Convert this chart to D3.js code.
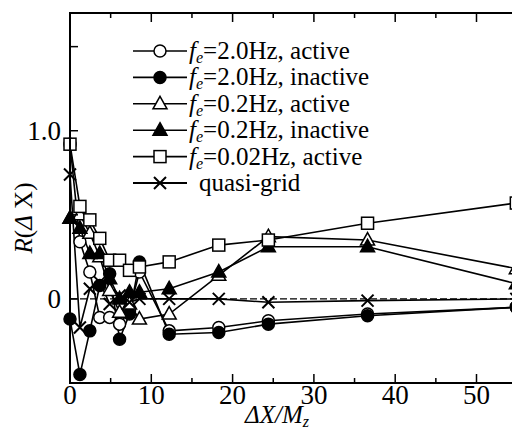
<!DOCTYPE html>
<html>
<head>
<meta charset="utf-8">
<script src="https://cdn.jsdelivr.net/npm/d3@7"></script>
<style>
  html, body { margin: 0; padding: 0; background: #fff; }
  svg { display: block; }
</style>
</head>
<body>
<svg id="chart" width="512" height="441" style="font-family: 'Liberation Serif', serif;"></svg>
<script>
// Separation distances (ΔX / Mz) at which the correlation was evaluated
const dx = [0, 1.22, 2.44, 3.66, 4.88, 6.1, 7.32, 8.54, 12.2, 18.3, 24.4, 36.6, 54.9];

// Correlation R(ΔX) for each case
const fe20Active   = [0.92, 0.34, 0.16, -0.11, -0.11, -0.15, -0.07, 0.16, -0.19, -0.17, -0.13, -0.09, -0.05];
const fe20Inactive = [-0.12, -0.45, -0.19, 0.08, 0.15, -0.24, -0.09, 0.22, -0.21, -0.20, -0.15, -0.10, -0.05];
const fe02Active   = [0.48, 0.50, 0.39, 0.25, 0.05, -0.08, -0.03, -0.12, -0.09, 0.14, 0.37, 0.35, 0.18];
const fe02Inactive = [0.48, 0.42, 0.27, 0.27, 0.12, 0.00, 0.04, 0.04, 0.06, 0.16, 0.31, 0.31, 0.09];
const fe002Active  = [0.92, 0.55, 0.47, 0.36, 0.23, 0.23, 0.17, 0.19, 0.22, 0.32, 0.35, 0.45, 0.57];
const quasiGrid    = [0.74, -0.17, 0.06, 0.10, -0.03, 0.02, -0.02, 0.00, 0.00, 0.00, -0.02, -0.01, 0.00];

// Legend entries: frequency text and state text
const legendFreq  = ["2.0Hz", "2.0Hz", "0.2Hz", "0.2Hz", "0.02Hz", null];
const legendState = ["active", "inactive", "active", "inactive", "active", "quasi-grid"];

// Axis ticks
const xMajorTicks = [0, 10, 20, 30, 40, 50];
const xMinorTicks = [5, 15, 25, 35, 45, 55];
const yLabelTicks = [0, 1.0];
const yTicks = [0.5, 1.0, 1.5];

const series = [
  { values: fe20Active,   symbol: "circle",   filled: false },
  { values: fe20Inactive, symbol: "circle",   filled: true  },
  { values: fe02Active,   symbol: "triangle", filled: false },
  { values: fe02Inactive, symbol: "triangle", filled: true  },
  { values: fe002Active,  symbol: "square",   filled: false },
  { values: quasiGrid,    symbol: "cross",    filled: false }
];

const serifFace = "Liberation Serif";
const svg = d3.select("#chart");
const plotLeft = 70, plotTop = 13, plotBottom = 383;
const x = d3.scaleLinear().domain([0, 56]).range([plotLeft, plotLeft + 56 * 8.13]);
const y = d3.scaleLinear().domain([-0.5, 1.7]).range([plotBottom, plotTop]);
const plotRight = x(56);

const clip = svg.append("defs").append("clipPath").attr("id", "plotclip");
clip.append("rect").attr("x", plotLeft - 12).attr("y", plotTop - 12)
  .attr("width", plotRight - plotLeft + 24).attr("height", plotBottom - plotTop + 24);

// Dashed reference line at R = 0
svg.append("line")
  .attr("x1", x(0)).attr("x2", plotRight)
  .attr("y1", y(0)).attr("y2", y(0))
  .attr("stroke", "#000").attr("stroke-width", 1.4)
  .attr("stroke-dasharray", "7,3");

const plot = svg.append("g").attr("clip-path", "url(#plotclip)");
const line = d3.line().x((d, i) => x(dx[i])).y(d => y(d));

series.forEach(s => {
  plot.append("path")
    .datum(s.values)
    .attr("d", line)
    .attr("fill", "none")
    .attr("stroke", "#000")
    .attr("stroke-width", 1.6);
});

function drawMarker(g, symbol, filled, cx, cy) {
  const fill = filled ? "#000" : "#fff";
  if (symbol === "circle") {
    g.append("circle").attr("cx", cx).attr("cy", cy).attr("r", 6)
      .attr("fill", fill).attr("stroke", "#000").attr("stroke-width", 1.5);
  } else if (symbol === "square") {
    g.append("rect").attr("x", cx - 6).attr("y", cy - 6).attr("width", 12).attr("height", 12)
      .attr("fill", fill).attr("stroke", "#000").attr("stroke-width", 1.5);
  } else if (symbol === "triangle") {
    g.append("path")
      .attr("d", `M${cx},${cy - 7.5}L${cx + 7},${cy + 5}L${cx - 7},${cy + 5}Z`)
      .attr("fill", fill).attr("stroke", "#000").attr("stroke-width", 1.5);
  } else if (symbol === "cross") {
    g.append("path")
      .attr("d", `M${cx - 6},${cy - 6}L${cx + 6},${cy + 6}M${cx - 6},${cy + 6}L${cx + 6},${cy - 6}`)
      .attr("stroke", "#000").attr("stroke-width", 2);
  }
}

series.forEach(s => {
  const g = plot.append("g");
  s.values.forEach((v, i) => drawMarker(g, s.symbol, s.filled, x(dx[i]), y(v)));
});

// Frame
const frame = svg.append("g").attr("stroke", "#000").attr("stroke-width", 2).attr("fill", "none");
frame.append("path").attr("d", `M${plotRight},${plotTop}H${plotLeft}V${plotBottom}H${plotRight}`);

// Inward ticks on bottom and top
const tickG = svg.append("g").attr("stroke", "#000").attr("stroke-width", 1.5);
xMajorTicks.forEach(t => {
  tickG.append("line").attr("x1", x(t)).attr("x2", x(t)).attr("y1", plotBottom).attr("y2", plotBottom - 9);
  tickG.append("line").attr("x1", x(t)).attr("x2", x(t)).attr("y1", plotTop).attr("y2", plotTop + 9);
});
xMinorTicks.forEach(t => {
  tickG.append("line").attr("x1", x(t)).attr("x2", x(t)).attr("y1", plotBottom).attr("y2", plotBottom - 5);
  tickG.append("line").attr("x1", x(t)).attr("x2", x(t)).attr("y1", plotTop).attr("y2", plotTop + 5);
});
yTicks.concat([0]).forEach(t => {
  tickG.append("line").attr("x1", plotLeft).attr("x2", plotLeft + 8).attr("y1", y(t)).attr("y2", y(t));
});

// Tick labels
svg.append("g").selectAll("text").data(xMajorTicks).join("text")
  .attr("x", d => x(d)).attr("y", 404)
  .attr("text-anchor", "middle").attr("font-size", 27).style("font-family", serifFace)
  .text(d => d);
svg.append("g").selectAll("text").data(yLabelTicks).join("text")
  .attr("x", 61).attr("y", d => y(d) + 9)
  .attr("text-anchor", "end").attr("font-size", 27).style("font-family", serifFace)
  .text(d => d === 0 ? "0" : d3.format(".1f")(d));

// Axis titles
const xt = svg.append("text").attr("x", 277).attr("y", 423).style("font-family", serifFace)
  .attr("text-anchor", "middle").attr("font-size", 25).attr("font-style", "italic");
xt.append("tspan").text("ΔX/M");
xt.append("tspan").attr("font-size", 16).attr("dy", 4).text("z");

const yt = svg.append("text").style("font-family", serifFace)
  .attr("transform", "translate(32,218) rotate(-90)")
  .attr("text-anchor", "middle").attr("font-size", 25);
yt.append("tspan").attr("font-style", "italic").text("R");
yt.append("tspan").text("(");
yt.append("tspan").attr("font-style", "italic").text("Δ");
yt.append("tspan").text(" X)");

// Legend
const legend = svg.append("g");
const rowY = d3.range(6).map(i => 51 + i * 26.4);
series.forEach((s, i) => {
  const cy = rowY[i];
  legend.append("line").attr("x1", 133).attr("x2", 187).attr("y1", cy).attr("y2", cy)
    .attr("stroke", "#000").attr("stroke-width", i === 5 ? 2.2 : 1.6);
  drawMarker(legend, s.symbol, s.filled, 160, cy);
  const t = legend.append("text").attr("x", 189).attr("y", cy + 8)
    .attr("font-size", 25).style("font-family", serifFace);
  if (legendFreq[i]) {
    t.append("tspan").attr("font-style", "italic").text("f");
    t.append("tspan").attr("font-style", "italic").attr("font-size", 16).attr("dy", 4).text("e");
    t.append("tspan").attr("dy", -4).text("=" + legendFreq[i] + ", " + legendState[i]);
  } else {
    t.attr("x", 199).text(legendState[i]);
  }
});
</script>
</body>
</html>
